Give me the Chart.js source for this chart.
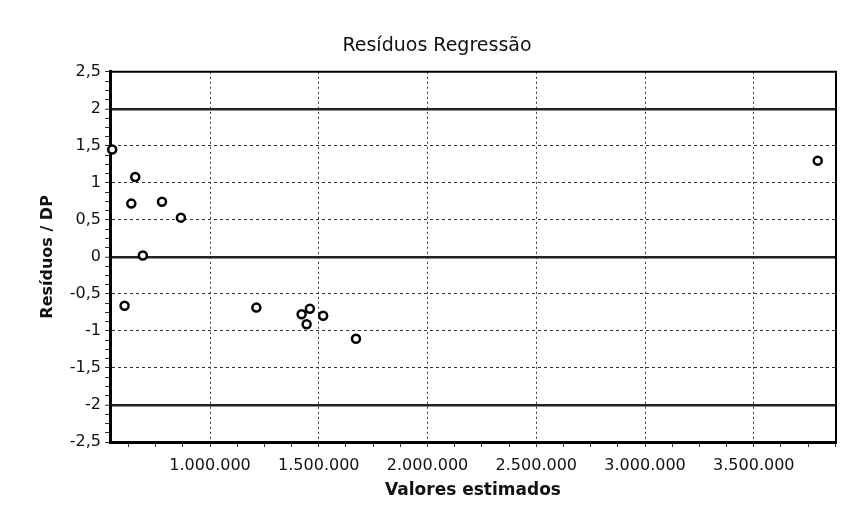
<!DOCTYPE html>
<html><head><meta charset="utf-8">
<script src="https://cdn.jsdelivr.net/npm/chart.js@4.4.0/dist/chart.umd.min.js"></script>
<style>html,body{margin:0;padding:0;background:#fff;}#wrap{width:847px;height:519px;}</style>
</head><body><div id="wrap"><canvas id="c" width="847" height="519"></canvas></div>
<script>
// ---- data ----
const estimatedValues = [550000, 656000, 638000, 779000, 866000, 691000, 607000, 1213000, 1421000, 1459000, 1444000, 1520000, 1671000, 3794000];
const residualsOverSD = [1.45, 1.08, 0.72, 0.745, 0.53, 0.02, -0.66, -0.685, -0.775, -0.70, -0.91, -0.795, -1.105, 1.30];
const xTickValues = [1000000, 1500000, 2000000, 2500000, 3000000, 3500000];
const xTickLabels = ['1.000.000', '1.500.000', '2.000.000', '2.500.000', '3.000.000', '3.500.000'];
const yTickValues = [-2.5, -2, -1.5, -1, -0.5, 0, 0.5, 1, 1.5, 2, 2.5];
const yTickLabels = ['-2,5', '-2', '-1,5', '-1', '-0,5', '0', '0,5', '1', '1,5', '2', '2,5'];
const referenceLines = [-2, 0, 2];
const xRange = [540000, 3878000];
const yRange = [-2.5, 2.5];
const xMinorStep = 125000;
const yMinorStep = 0.125;

const FONT = 'DejaVu Sans';
const near = (list, v, tol) => list.findIndex(m => Math.abs(m - v) < tol);

const xTicks = [];
for (let v = Math.ceil(xRange[0] / xMinorStep) * xMinorStep; v <= xRange[1]; v += xMinorStep) xTicks.push(v);
const yTicks = [];
for (let i = Math.round(yRange[0] / yMinorStep); i <= Math.round(yRange[1] / yMinorStep); i++) yTicks.push(i * yMinorStep);

const framePlugin = {
  id: 'frame',
  afterDraw(chart) {
    const { ctx, chartArea: a } = chart;
    ctx.save();
    ctx.strokeStyle = '#000';
    ctx.lineWidth = 2;
    ctx.beginPath();
    ctx.moveTo(a.left, a.top);
    ctx.lineTo(a.right, a.top);
    ctx.lineTo(a.right, a.bottom);
    ctx.stroke();
    ctx.restore();
  }
};

new Chart(document.getElementById('c'), {
  type: 'scatter',
  data: {
    datasets: [{
      data: estimatedValues.map((x, i) => ({ x, y: residualsOverSD[i] })),
      pointRadius: 4,
      pointBorderWidth: 2.5,
      pointBackgroundColor: '#fff',
      pointBorderColor: '#000',
      pointHoverRadius: 4,
      showLine: false,
      clip: 8
    }]
  },
  options: {
    responsive: false,
    devicePixelRatio: 1,
    animation: false,
    layout: { padding: { left: 38, right: 11, top: 0, bottom: 0 } },
    plugins: {
      legend: { display: false },
      tooltip: { enabled: false },
      title: {
        display: true,
        text: 'Resíduos Regressão',
        color: '#111',
        font: { family: FONT, size: 19, weight: 'normal' },
        padding: { top: 35, bottom: 14 }
      }
    },
    scales: {
      x: {
        type: 'linear',
        min: xRange[0], max: xRange[1],
        afterBuildTicks: s => { s.ticks = xTicks.map(v => ({ value: v })); },
        afterFit: s => { s.height = 77; },
        ticks: {
          autoSkip: false, maxRotation: 0, padding: 9, color: '#111',
          font: { family: FONT, size: 16 },
          callback: v => { const i = near(xTickValues, v, 1); return i >= 0 ? xTickLabels[i] : ''; }
        },
        grid: {
          color: c => (c.tick && near(xTickValues, c.tick.value, 1) >= 0) ? '#333' : 'rgba(0,0,0,0)',
          lineWidth: 1, tickLength: 5, tickColor: '#333', tickWidth: 1, drawTicks: true
        },
        border: { display: true, color: '#000', width: 3, dash: c => c.tick ? [2, 3] : [] },
        title: {
          display: true, text: 'Valores estimados', color: '#111',
          font: { family: FONT, size: 17, weight: 'bold' },
          padding: { top: 0, bottom: 18 }
        }
      },
      y: {
        type: 'linear',
        min: yRange[0], max: yRange[1],
        afterBuildTicks: s => { s.ticks = yTicks.map(v => ({ value: v })); },
        afterFit: s => { s.width = 72; },
        ticks: {
          autoSkip: false, padding: 4, color: '#111',
          font: { family: FONT, size: 16 },
          callback: v => { const i = near(yTickValues, v, 1e-6); return i >= 0 ? yTickLabels[i] : ''; }
        },
        grid: {
          color: c => {
            if (!c.tick) return 'rgba(0,0,0,0)';
            if (near(referenceLines, c.tick.value, 1e-6) >= 0) return '#222';
            return near(yTickValues, c.tick.value, 1e-6) >= 0 ? '#333' : 'rgba(0,0,0,0)';
          },
          lineWidth: c => (c.tick && near(referenceLines, c.tick.value, 1e-6) >= 0) ? 2.5 : 1,
          tickLength: 5, tickColor: '#333', tickWidth: 1, drawTicks: true
        },
        border: {
          display: true, color: '#000', width: 3,
          dash: c => (c.tick && near(referenceLines, c.tick.value, 1e-6) < 0) ? [3, 3] : []
        },
        title: {
          display: true, text: 'Resíduos / DP', color: '#111',
          font: { family: FONT, size: 16, weight: 'bold' },
          padding: { top: 0, bottom: 0 }
        }
      }
    }
  },
  plugins: [framePlugin]
});
</script>
</body></html>
